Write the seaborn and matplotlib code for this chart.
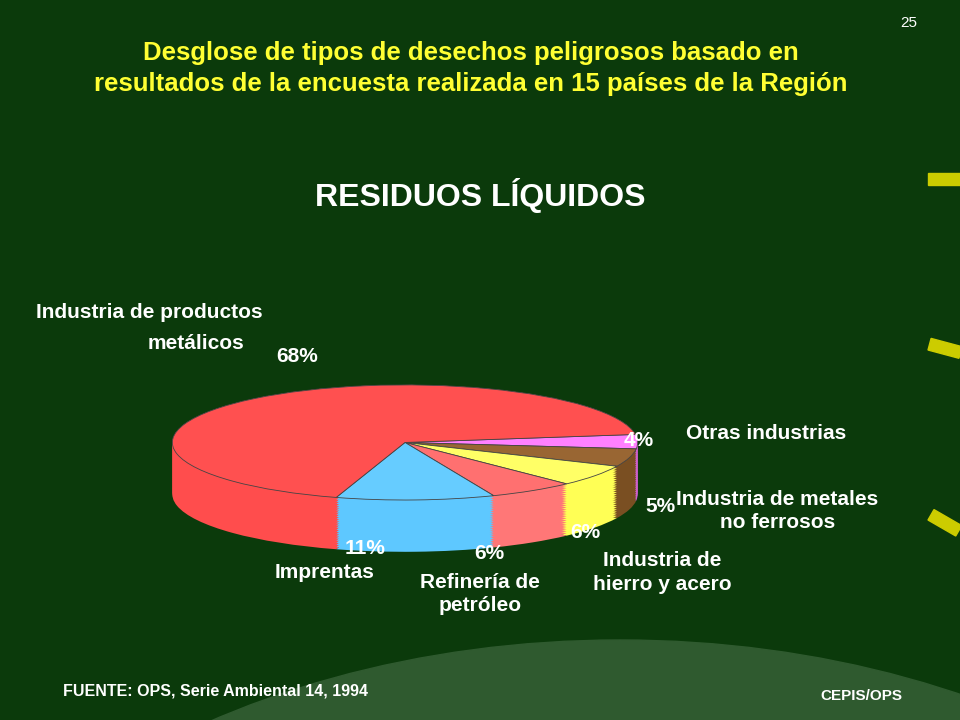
import matplotlib
matplotlib.use("Agg")
import matplotlib.pyplot as plt
import matplotlib.patches as mpatches
import seaborn as sns
import numpy as np

sns.set_style("white")
plt.rcParams['font.family'] = ['Liberation Sans', 'DejaVu Sans']

# datos
categorias = ["Otras industrias", "Industria de metales no ferrosos", "Industria de hierro y acero",
              "Refinería de petróleo", "Imprentas", "Industria de productos metálicos"]
valores = [4, 5, 6, 6, 11, 68]
colores = ["#ff80ff", "#996633", "#ffff66", "#ff7070", "#66ccff", "#ff5050"]
colores_lado = ["#d060d0", "#7a4f22", "#ffff55", "#ff7777", "#5ec8ff", "#ff4d4d"]

fig = plt.figure(figsize=(9.6, 7.2), dpi=100)
fig.patch.set_facecolor("#0b3a0b")

# fondo: arco mas claro
bg = fig.add_axes([0, 0, 1, 1], zorder=-1)
bg.set_xlim(0, 960); bg.set_ylim(0, 720); bg.axis("off")
bg.add_patch(mpatches.Ellipse((620, -420), 1500, 1000, color="#2f5a2f"))
bg.add_patch(mpatches.Ellipse((700, -460), 1400, 900, color="#3f6a3f"))
for yy, ang in [(535, 0), (370, -15), (200, -30)]:
    bg.add_patch(mpatches.Rectangle((928, yy), 32, 12, angle=ang, color="#cccc00"))

# pastel 3D
ax = fig.add_axes([170/960, 0.232, 470/960, 0.235])
depth = 0.9
for off in np.linspace(-depth, 0, 25):
    cols = colores_lado if off < 0 else colores
    ax.pie(valores, colors=cols, startangle=8, counterclock=False,
           center=(0, off), radius=1, wedgeprops=dict(linewidth=0))
ax.pie(valores, colors=colores, startangle=8, counterclock=False,
       center=(0, 0), radius=1, wedgeprops=dict(edgecolor="#444444", linewidth=0.6))
ax.set_aspect("auto")
ax.set_xlim(-1.01, 1.01)
ax.set_ylim(-1 - depth - 0.02, 1.02)
ax.axis("off")

kw = dict(color="white", fontweight="bold", fontsize=15)
fig.text(0.955, 0.978, "25", color="white", fontsize=11, ha="right", va="top")
fig.text(0.49, 0.905, "Desglose de tipos de desechos peligrosos basado en\nresultados de la encuesta realizada en 15 países de la Región",
         color="#ffff33", fontweight="bold", fontsize=18.5, ha="center", va="center", linespacing=1.35)
fig.text(0.50, 0.728, "RESIDUOS LÍQUIDOS", color="white", fontweight="bold", fontsize=23, ha="center", va="center")

fig.text(0.038, 0.566, "Industria de productos", ha="left", va="center", **kw)
fig.text(0.255, 0.523, "metálicos", ha="right", va="center", **kw)
fig.text(0.31, 0.505, "68%", ha="center", va="center", **kw)
fig.text(0.665, 0.388, "4%", ha="center", va="center", **kw)
fig.text(0.715, 0.398, "Otras industrias", ha="left", va="center", **kw)
fig.text(0.688, 0.297, "5%", ha="center", va="center", **kw)
fig.text(0.81, 0.29, "Industria de metales\nno ferrosos", ha="center", va="center", linespacing=1.3, **kw)
fig.text(0.61, 0.26, "6%", ha="center", va="center", **kw)
fig.text(0.69, 0.205, "Industria de\nhierro y acero", ha="center", va="center", linespacing=1.3, **kw)
fig.text(0.51, 0.231, "6%", ha="center", va="center", **kw)
fig.text(0.50, 0.175, "Refinería de\npetróleo", ha="center", va="center", linespacing=1.3, **kw)
fig.text(0.38, 0.238, "11%", ha="center", va="center", **kw)
fig.text(0.338, 0.205, "Imprentas", ha="center", va="center", **kw)

fig.text(0.066, 0.04, "FUENTE: OPS, Serie Ambiental 14, 1994", color="white", fontweight="bold", fontsize=11.5, ha="left", va="center")
fig.text(0.94, 0.033, "CEPIS/OPS", color="white", fontweight="bold", fontsize=11, ha="right", va="center")

fig.savefig("out.png", dpi=100, facecolor=fig.get_facecolor())
